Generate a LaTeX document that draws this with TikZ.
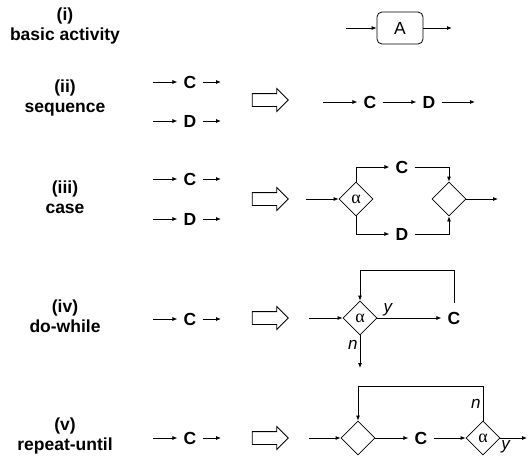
\documentclass[tikz,border=0pt]{standalone}
\usepackage{fontspec}
\setmainfont{Liberation Sans}
\newfontfamily\greekfont{Liberation Serif}
\usepackage{tikz}
\usetikzlibrary{positioning, arrows.meta, shapes.geometric, shapes.arrows}

\begin{document}
\begin{tikzpicture}[
    x=1pt,
    y=-1pt,
    caption/.style={
        align=center,
        font=\fontsize{17.5}{19.5}\selectfont\bfseries
    },
    letter/.style={
        inner xsep=6pt,
        inner ysep=2pt,
        font=\fontsize{17.5}{19}\selectfont\bfseries
    },
    actbox/.style={
        rectangle,
        draw,
        line width=0.8pt,
        rounded corners=5pt,
        minimum width=46pt,
        minimum height=32pt,
        font=\fontsize{17.5}{19}\selectfont
    },
    decision/.style={
        diamond,
        draw,
        line width=0.8pt,
        inner sep=0pt,
        minimum width=34pt,
        minimum height=34pt,
        font=\fontsize{18}{20}\selectfont\greekfont
    },
    becomes/.style={
        single arrow,
        draw,
        line width=0.8pt,
        inner xsep=0pt,
        inner ysep=6pt,
        minimum height=36pt,
        single arrow head extend=5pt
    },
    cond/.style={
        inner sep=2pt,
        font=\fontsize{17}{19}\selectfont\itshape
    },
    arrow/.style={
        line width=0.8pt,
        -{Latex[length=5pt,width=4pt]}
    }
]
\useasboundingbox (0,0) rectangle (528,459);

% (i) basic activity
\node (lab1) [caption] at (65,26) {(i)\\basic activity};
\node (act) [actbox] at (400,28) {A};
\coordinate (in1) at (346,28);
\coordinate (out1) at (452,28);
\draw [arrow] (in1) -- (act);
\draw [arrow] (act) -- (out1);

% (ii) sequence
\node (lab2) [caption] at (65,98) {(ii)\\sequence};
\node (c2) [letter] at (190,82) {C};
\node (d2) [letter] at (190,121) {D};
\coordinate (c2in) at (153,82);
\coordinate (c2out) at (221,82);
\coordinate (d2in) at (153,121);
\coordinate (d2out) at (221,121);
\draw [arrow] (c2in) -- (c2);
\draw [arrow] (c2) -- (c2out);
\draw [arrow] (d2in) -- (d2);
\draw [arrow] (d2) -- (d2out);
\node (seq) [becomes] at (267,100) {};
\node (c2r) [letter] at (370,102) {C};
\node (d2r) [letter] at (429,102) {D};
\coordinate (s2in) at (323,102);
\coordinate (s2out) at (475,102);
\draw [arrow] (s2in) -- (c2r);
\draw [arrow] (c2r) -- (d2r);
\draw [arrow] (d2r) -- (s2out);

% (iii) case
\node (lab3) [caption] at (65,197) {(iii)\\case};
\node (c3) [letter] at (190,179) {C};
\node (d3) [letter] at (190,219) {D};
\coordinate (c3in) at (153,179);
\coordinate (c3out) at (221,179);
\coordinate (d3in) at (153,219);
\coordinate (d3out) at (221,219);
\draw [arrow] (c3in) -- (c3);
\draw [arrow] (c3) -- (c3out);
\draw [arrow] (d3in) -- (d3);
\draw [arrow] (d3) -- (d3out);
\node (cse) [becomes] at (267,199) {};
\node (split) [decision] at (356,199) {α};
\node (merge) [decision] at (449,199) {};
\node (c3r) [letter] at (402,167) {C};
\node (d3r) [letter] at (402,234) {D};
\coordinate (s3in) at (306,199);
\coordinate (s3out) at (498,199);
\draw [arrow] (s3in) -- (split);
\draw [arrow] (split.north) |- (c3r);
\draw [arrow] (c3r) -| (merge.north);
\draw [arrow] (split.south) |- (d3r);
\draw [arrow] (d3r) -| (merge.south);
\draw [arrow] (merge) -- (s3out);

% (iv) do-while
\node (lab4) [caption] at (65,316) {(iv)\\do-while};
\node (c4) [letter] at (190,319) {C};
\coordinate (c4in) at (153,319);
\coordinate (c4out) at (221,319);
\draw [arrow] (c4in) -- (c4);
\draw [arrow] (c4) -- (c4out);
\node (dw) [becomes] at (267,318) {};
\node (test4) [decision] at (360,318) {α};
\node (c4r) [letter, inner ysep=9pt] at (454,318) {C};
\coordinate (s4in) at (309,318);
\coordinate (s4out) at (360,368);
\draw [arrow] (s4in) -- (test4);
\draw [arrow] (test4) -- (c4r) node[cond, pos=0.06, above right] {y};
\draw [arrow] (c4r.north) |- ([yshift=30pt]test4.north) -- (test4.north);
\draw [arrow] (test4.south) -- (s4out) node[cond, pos=0.3, left] {n};

% (v) repeat-until
\node (lab5) [caption] at (65,436) {(v)\\repeat-until};
\node (c5) [letter] at (190,438) {C};
\coordinate (c5in) at (153,438);
\coordinate (c5out) at (221,438);
\draw [arrow] (c5in) -- (c5);
\draw [arrow] (c5) -- (c5out);
\node (ru) [becomes] at (267,438) {};
\node (join5) [decision] at (358,438) {};
\node (c5r) [letter] at (421,438) {C};
\node (test5) [decision] at (483,438) {α};
\coordinate (s5in) at (309,438);
\coordinate (s5out) at (527,438);
\draw [arrow] (s5in) -- (join5);
\draw [arrow] (join5) -- (c5r);
\draw [arrow] (c5r) -- (test5);
\draw [arrow] (test5) -- (s5out) node[cond, pos=0.2, below] {y};
\draw [arrow] (test5.north) |- node[cond, pos=0.25, left] {n} ([yshift=34pt]join5.north) -- (join5.north);

\end{tikzpicture}
\end{document}
